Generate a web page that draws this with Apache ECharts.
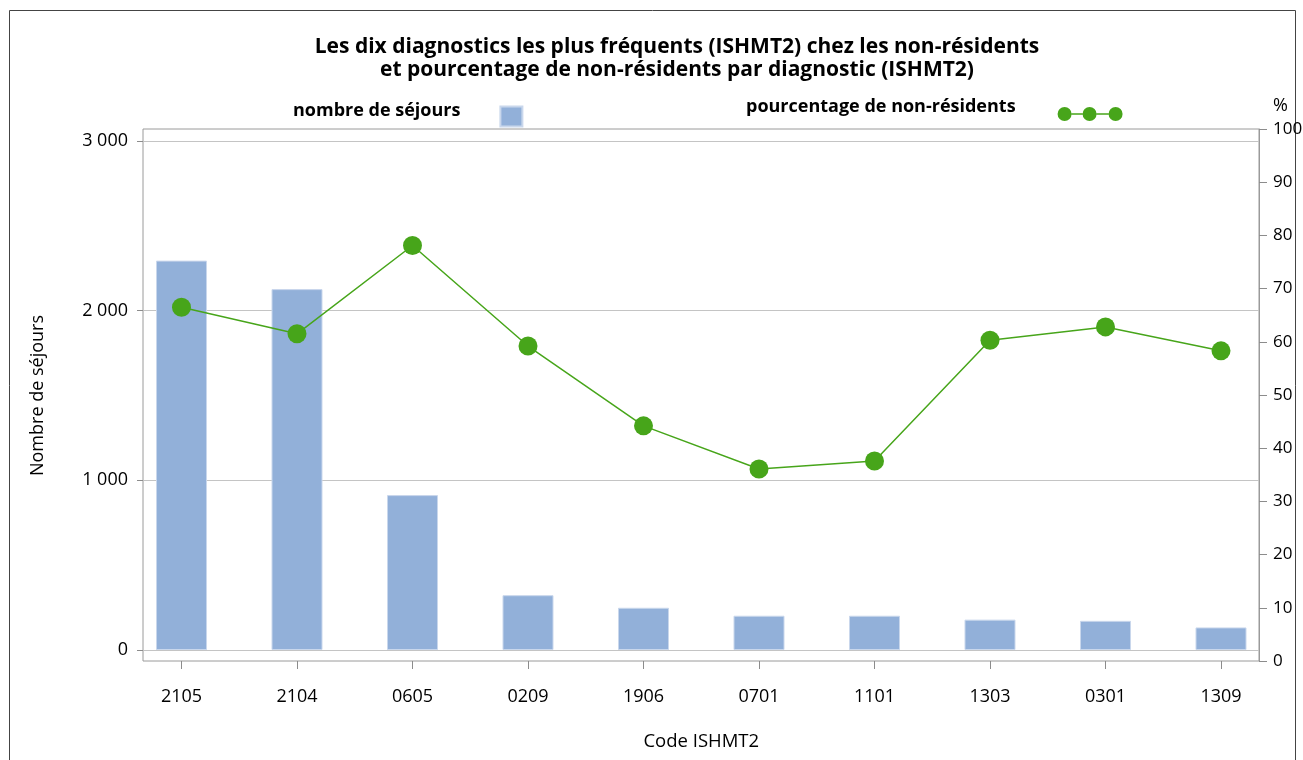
<!DOCTYPE html>
<html>
<head>
<meta charset="utf-8">
<script src="https://cdn.jsdelivr.net/npm/echarts@6/dist/echarts.min.js"></script>
<style>
html,body{margin:0;padding:0;background:#fff;}
#chart{width:1303px;height:760px;}
</style>
</head>
<body>
<div id="chart"></div>
<script>
var codes = ['2105','2104','0605','0209','1906','0701','1101','1303','0301','1309'];
var sejours = [2295, 2127, 913, 323, 249, 202, 202, 179, 172, 133];
var pctNonResidents = [66.5, 61.5, 78.1, 59.2, 44.2, 36.1, 37.6, 60.3, 62.8, 58.3];
var leftTicks = [0, 1000, 2000, 3000];

var FONT = 'Open Sans';
var barColor = '#92b0d9';
var lineColor = '#47a51a';

function fmtThousands(v){
    return String(v).replace(/\B(?=(\d{3})+(?!\d))/g, ' ');
}

var dotsIcon = 'path://M0,7a7,7 0 1,0 14,0a7,7 0 1,0 -14,0Z' +
    'M25,7a7,7 0 1,0 14,0a7,7 0 1,0 -14,0Z' +
    'M51,7a7,7 0 1,0 14,0a7,7 0 1,0 -14,0Z' +
    'M14,6.3H25V7.7H14Z M39,6.3H51V7.7H39Z';

var chart = echarts.init(document.getElementById('chart'));
var option = {
    animation: false,
    textStyle: {fontFamily: FONT},
    title: {
        text: 'Les dix diagnostics les plus fréquents (ISHMT2) chez les non-résidents\net pourcentage de non-résidents par diagnostic (ISHMT2)',
        left: 672,
        top: 31,
        textAlign: 'center',
        textStyle: {fontFamily: FONT, fontSize: 21, fontWeight: 'bold', color: '#000', lineHeight: 23}
    },
    legend: [
        {
            data: [{name: 'nombre de séjours', icon: 'rect'}],
            left: 288,
            top: 96.5,
            align: 'right',
            itemWidth: 22,
            itemHeight: 20,
            selectedMode: false,
            formatter: '{t|{name}}',
            textStyle: {
                rich: {t: {fontFamily: FONT, fontSize: 18, fontWeight: 'bold', color: '#000', padding: [0, 35, 12, 0]}}
            }
        },
        {
            data: [{name: 'pourcentage de non-résidents', icon: dotsIcon}],
            left: 741,
            top: 93,
            align: 'right',
            itemWidth: 65,
            itemHeight: 14,
            selectedMode: false,
            formatter: '{t|{name}}',
            textStyle: {
                rich: {t: {fontFamily: FONT, fontSize: 18, fontWeight: 'bold', color: '#000', padding: [0, 37, 14, 0]}}
            }
        }
    ],
    graphic: [{
        type: 'rect',
        shape: {x: 9.5, y: 10.5, width: 1286, height: 780},
        style: {fill: 'none', stroke: '#444', lineWidth: 1},
        silent: true
    }],
    grid: [
        {left: 143, right: 44, top: 129, bottom: 99, show: true, borderColor: '#9a9a9a', borderWidth: 1, outerBoundsMode: 'none'},
        {left: 143, right: 44, top: 141, bottom: 110, outerBoundsMode: 'none'},
        {left: 181.5, right: 82, top: 141, bottom: 110, outerBoundsMode: 'none'},
        {left: 181.5, right: 82, top: 129, bottom: 99, outerBoundsMode: 'none'}
    ],
    xAxis: [
        {gridIndex: 0, type: 'value', min: 0, max: 1, show: false},
        {gridIndex: 1, type: 'value', min: 0, max: 1, show: false},
        {gridIndex: 2, type: 'category', data: codes, boundaryGap: false, show: false},
        {
            gridIndex: 3, type: 'category', data: codes, boundaryGap: false,
            offset: 4,
            axisLine: {show: false},
            axisTick: {show: true, length: 8, lineStyle: {color: '#8c8c8c'}},
            axisLabel: {fontSize: 18, color: '#000', margin: 23, fontFamily: FONT},
            name: 'Code ISHMT2',
            nameLocation: 'middle',
            nameGap: 67,
            nameTextStyle: {fontSize: 18.5, color: '#000', fontFamily: FONT}
        }
    ],
    yAxis: [
        {gridIndex: 0, type: 'value', min: 0, max: 1, show: false},
        {
            gridIndex: 1, type: 'value', min: leftTicks[0], max: leftTicks[leftTicks.length - 1], interval: 1000,
            axisLine: {show: false},
            axisTick: {show: true, length: 6, lineStyle: {color: '#8c8c8c'}},
            axisLabel: {fontSize: 18, color: '#000', margin: 15, fontFamily: FONT, formatter: fmtThousands},
            splitLine: {show: true, lineStyle: {color: '#c4c4c4', width: 1}},
            name: 'Nombre de séjours',
            nameLocation: 'middle',
            nameGap: 96,
            nameTextStyle: {fontSize: 18, color: '#000', fontFamily: FONT}
        },
        {gridIndex: 2, type: 'value', min: leftTicks[0], max: leftTicks[leftTicks.length - 1], show: false},
        {
            gridIndex: 3, type: 'value', position: 'right', offset: 38,
            min: 0, max: 100, interval: 10,
            axisLine: {show: true, lineStyle: {color: '#9a9a9a'}},
            axisTick: {show: true, length: 8, lineStyle: {color: '#8c8c8c'}},
            axisLabel: {fontSize: 17, color: '#000', margin: 14, fontFamily: FONT},
            splitLine: {show: false},
            name: '%',
            nameLocation: 'end',
            nameGap: 14,
            nameTextStyle: {fontSize: 18, color: '#000', fontFamily: FONT, align: 'left', padding: [0, 0, 0, 14]}
        }
    ],
    series: [
        {
            name: 'nombre de séjours',
            type: 'bar',
            xAxisIndex: 2,
            yAxisIndex: 2,
            data: sejours,
            barWidth: 51,
            itemStyle: {color: barColor, borderColor: '#c9d7ec', borderWidth: 1}
        },
        {
            name: 'pourcentage de non-résidents',
            type: 'line',
            xAxisIndex: 3,
            yAxisIndex: 3,
            data: pctNonResidents,
            symbol: 'circle',
            symbolSize: 19,
            z: 5,
            lineStyle: {color: lineColor, width: 1.5},
            itemStyle: {color: lineColor}
        }
    ]
};
chart.setOption(option);
</script>
</body>
</html>
